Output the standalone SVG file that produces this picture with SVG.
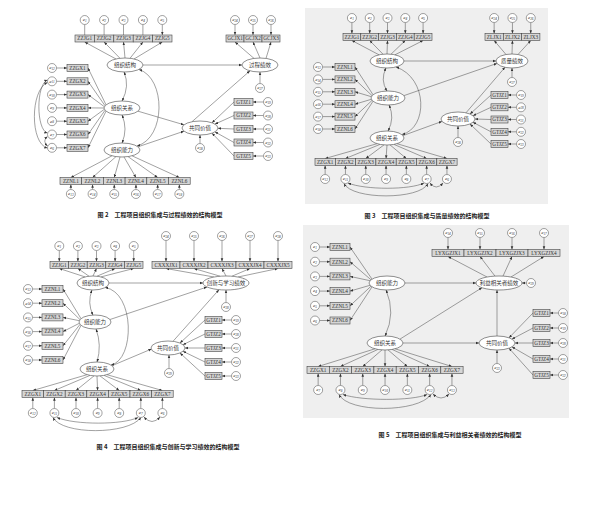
<svg xmlns="http://www.w3.org/2000/svg" width="599" height="516" viewBox="0 0 599 516">
<style>
.bg{fill:#efefef}
.lv{fill:#fff;stroke:#444;stroke-width:.6}
.ob{fill:#d6d6d6;stroke:#444;stroke-width:.6}
.er{fill:#fff;stroke:#444;stroke-width:.5}
.zh{font-family:"Noto Sans CJK SC","Noto Sans",sans-serif;font-size:5.5px;fill:#333;text-anchor:middle}
.bt{font-family:"Liberation Serif",serif;font-size:5.2px;fill:#333;text-anchor:middle}
.et{font-family:"Liberation Serif",serif;font-size:5px;font-style:italic;fill:#333;text-anchor:middle}
.s{font-size:3.4px}
.cap{font-family:"Noto Sans CJK SC",sans-serif;font-size:6px;fill:#222;text-anchor:middle;font-weight:bold}
.a{fill:none;stroke:#444;stroke-width:.5;marker-end:url(#ah)}
.d{fill:none;stroke:#444;stroke-width:.5;marker-end:url(#ah);marker-start:url(#ah)}
</style>
<defs>
<marker id="ah" viewBox="0 0 10 10" refX="10" refY="5" markerWidth="3.2" markerHeight="3.2" markerUnits="userSpaceOnUse" orient="auto-start-reverse"><path d="M0,1 L10,5 L0,9 z" fill="#333"/></marker>
</defs>
<rect width="599" height="516" fill="#fff"/>
<rect class="bg" x="305" y="8" width="243" height="196"/>
<rect class="bg" x="303" y="225" width="266" height="193"/>

<g id="connectors">
<g id="c-fig2">
<path class="a" d="M84.7,24.5V35M104.1,24.5V35M123.5,24.5V35M142.9,24.5V35M162.3,24.5V35"/>
<path class="a" d="M116,59L84.7,42"/><path class="a" d="M120,58.3L104.1,42"/><path class="a" d="M125,58L123.5,42"/><path class="a" d="M130,58.3L142.9,42"/><path class="a" d="M134,59L162.3,42"/>
<path class="a" d="M235,24.5V35"/><path class="a" d="M253,24.5V35"/><path class="a" d="M271,24.5V35"/>
<path class="a" d="M254,58.4L235,42"/><path class="a" d="M260,58L253,42"/><path class="a" d="M266,58.4L271,42"/>
<path class="a" d="M260,83.5V72"/>
<path class="a" d="M56.5,68H67"/><path class="a" d="M56.5,81.3H67"/><path class="a" d="M56.5,94.6H67"/><path class="a" d="M56.5,107.9H67"/><path class="a" d="M56.5,121.2H67"/><path class="a" d="M56.5,134.5H67"/><path class="a" d="M56.5,147.8H67"/>
<path class="a" d="M106,104.8L88,68"/><path class="a" d="M105,105.7L88,81.3"/><path class="a" d="M104.3,106.7L88,94.6"/><path class="a" d="M104,108L88,107.9"/><path class="a" d="M104.3,109.3L88,121.2"/><path class="a" d="M105,110.3L88,134.5"/><path class="a" d="M106,111.2L88,147.8"/>
<path class="d" d="M47.5,80C36,84 36,130 47.5,133"/>
<path class="d" d="M47.5,82.5C30,90 30,144 47.5,148"/>
<path class="d" d="M47.5,136.5Q42,141 47.5,146"/>
<path class="a" d="M70.85,189.5V184.5"/><path class="a" d="M92.55,189.5V184.5"/><path class="a" d="M114.25,189.5V184.5"/><path class="a" d="M135.95,189.5V184.5"/><path class="a" d="M157.65,189.5V184.5"/><path class="a" d="M179.35,189.5V184.5"/>
<path class="a" d="M112,155.8L70.85,177.5"/><path class="a" d="M116,156.6L92.55,177.5"/><path class="a" d="M120,157L114.25,177.5"/><path class="a" d="M124,157L135.95,177.5"/><path class="a" d="M128,156.6L157.65,177.5"/><path class="a" d="M132,155.8L179.35,177.5"/>
<path class="a" d="M263.5,102H253"/><path class="a" d="M263.5,115.5H253"/><path class="a" d="M263.5,129H253"/><path class="a" d="M263.5,142.5H253"/><path class="a" d="M263.5,156H253"/>
<path class="a" d="M234,102L212,122.8"/><path class="a" d="M234,115.5L215,124.1"/><path class="a" d="M234,129L218,128.3"/><path class="a" d="M234,142.5L215,131.9"/><path class="a" d="M234,156L212,133.2"/>
<path class="a" d="M200,143.5V135"/>
<path class="a" d="M143,65H242"/>
<path class="a" d="M138,111.2L184,124.8"/>
<path class="a" d="M138,146.8L184,131.2"/>
<path class="a" d="M192,121.7L250,70.8"/>
<path class="d" d="M124,72Q130,86 122,101"/>
<path class="d" d="M122,115Q128,129 122,143"/>
<path class="d" d="M139,69.5C166,78 166,138 137,146"/>
</g>
<g id="c-fig3">
<path class="a" d="M351.9,22.5V33.5"/><path class="a" d="M369.7,22.5V33.5"/><path class="a" d="M387.5,22.5V33.5"/><path class="a" d="M405.3,22.5V33.5"/><path class="a" d="M423.1,22.5V33.5"/>
<path class="a" d="M379,54.8L351.9,40.5"/><path class="a" d="M383,54.2L369.7,40.5"/><path class="a" d="M387,54L387.5,40.5"/><path class="a" d="M391,54.2L405.3,40.5"/><path class="a" d="M395,54.8L423.1,40.5"/>
<path class="a" d="M494.15,22.5V33.5"/><path class="a" d="M512.45,22.5V33.5"/><path class="a" d="M530.75,22.5V33.5"/>
<path class="a" d="M506,54.5L494.15,40.5"/><path class="a" d="M512,54L512.45,40.5"/><path class="a" d="M518,54.5L530.75,40.5"/>
<path class="a" d="M512,77.5V68"/>
<path class="a" d="M322.5,67H335"/><path class="a" d="M322.5,79.4H335"/><path class="a" d="M322.5,91.8H335"/><path class="a" d="M322.5,104.2H335"/><path class="a" d="M322.5,116.6H335"/><path class="a" d="M322.5,129H335"/>
<path class="a" d="M373,94.7L355,67"/><path class="a" d="M372,95.6L355,79.4"/><path class="a" d="M371.3,96.7L355,91.8"/><path class="a" d="M371.3,99.3L355,104.2"/><path class="a" d="M372,100.4L355,116.6"/><path class="a" d="M373,101.3L355,129"/>
<path class="a" d="M325.15,174.5V165.5"/><path class="a" d="M345.45,174.5V165.5"/><path class="a" d="M365.75,174.5V165.5"/><path class="a" d="M386.05,174.5V165.5"/><path class="a" d="M406.35,174.5V165.5"/><path class="a" d="M426.65,174.5V165.5"/><path class="a" d="M446.95,174.5V165.5"/>
<path class="a" d="M377,143.7L325.15,158.5"/><path class="a" d="M380,144.4L345.45,158.5"/><path class="a" d="M384,144.9L365.75,158.5"/><path class="a" d="M387,145L386.05,158.5"/><path class="a" d="M390,144.9L406.35,158.5"/><path class="a" d="M394,144.4L426.65,158.5"/><path class="a" d="M397,143.7L446.95,158.5"/>
<path class="d" d="M348,183C365,190 410,190 424,183"/>
<path class="d" d="M344,183.5C352,200 420,200 428,183.5"/>
<path class="d" d="M430,183Q436,191 443,183"/>
<path class="a" d="M516.5,95H508"/><path class="a" d="M516.5,107.3H508"/><path class="a" d="M516.5,119.5H508"/><path class="a" d="M516.5,131.8H508"/><path class="a" d="M516.5,144H508"/>
<path class="a" d="M491,95L470,114"/><path class="a" d="M491,107.3L473,115.7"/><path class="a" d="M491,119.5L475,119"/><path class="a" d="M491,131.8L473,122.3"/><path class="a" d="M491,144L470,124"/>
<path class="a" d="M458,137.5V126"/>
<path class="a" d="M404,61H496"/>
<path class="a" d="M404,95.6L497,63.4"/>
<path class="a" d="M403,135.6L442,121.4"/>
<path class="a" d="M466,112.8L505,67.3"/>
<path class="d" d="M386,68Q380,80 387,91"/>
<path class="d" d="M389,105Q395,118 388,131"/>
<path class="d" d="M396,67C428,78 428,128 402,134.5"/>
</g>
<g id="c-fig4">
<path class="a" d="M59.3,250.5V261.5"/><path class="a" d="M77.9,250.5V261.5"/><path class="a" d="M96.5,250.5V261.5"/><path class="a" d="M115.1,250.5V261.5"/><path class="a" d="M133.7,250.5V261.5"/>
<path class="a" d="M85,276.9L59.3,268.5"/><path class="a" d="M89,276.2L77.9,268.5"/><path class="a" d="M93,276L96.5,268.5"/><path class="a" d="M97,276.2L115.1,268.5"/><path class="a" d="M101,276.9L133.7,268.5"/>
<path class="a" d="M166,240.5V261.5"/><path class="a" d="M194,240.5V261.5"/><path class="a" d="M222,240.5V261.5"/><path class="a" d="M250,240.5V261.5"/><path class="a" d="M278,240.5V261.5"/>
<path class="a" d="M214,277L166,268.5"/><path class="a" d="M220,276.2L194,268.5"/><path class="a" d="M226,276L222,268.5"/><path class="a" d="M232,276.2L250,268.5"/><path class="a" d="M238,277L278,268.5"/>
<path class="a" d="M226,302.5V290"/>
<path class="a" d="M32.5,289H42"/><path class="a" d="M32.5,303.2H42"/><path class="a" d="M32.5,317.4H42"/><path class="a" d="M32.5,331.6H42"/><path class="a" d="M32.5,345.8H42"/><path class="a" d="M32.5,360H42"/>
<path class="a" d="M81,318.6L63,289"/><path class="a" d="M80,319.6L63,303.2"/><path class="a" d="M79.3,320.7L63,317.4"/><path class="a" d="M79.3,323.3L63,331.6"/><path class="a" d="M80,324.4L63,345.8"/><path class="a" d="M81,325.4L63,360"/>
<path class="a" d="M32.8,408.5V397.5"/><path class="a" d="M54.4,408.5V397.5"/><path class="a" d="M76,408.5V397.5"/><path class="a" d="M97.6,408.5V397.5"/><path class="a" d="M119.2,408.5V397.5"/><path class="a" d="M140.8,408.5V397.5"/><path class="a" d="M162.4,408.5V397.5"/>
<path class="a" d="M87,374.7L32.8,390.5"/><path class="a" d="M90,375.4L54.4,390.5"/><path class="a" d="M94,375.9L76,390.5"/><path class="a" d="M97,376L97.6,390.5"/><path class="a" d="M100,375.9L119.2,390.5"/><path class="a" d="M104,375.4L140.8,390.5"/><path class="a" d="M107,374.7L162.4,390.5"/>
<path class="d" d="M57,417.5C75,425 122,425 138,417.5"/>
<path class="d" d="M53,417.5C62,435 128,435 141,417.5"/>
<path class="d" d="M144,417Q152,426 160,417"/>
<path class="a" d="M231.5,320H222"/><path class="a" d="M231.5,334H222"/><path class="a" d="M231.5,348H222"/><path class="a" d="M231.5,362H222"/><path class="a" d="M231.5,376H222"/>
<path class="a" d="M205,320L180,343"/><path class="a" d="M205,334L183,344.7"/><path class="a" d="M205,348L185,348"/><path class="a" d="M205,362L183,351.3"/><path class="a" d="M205,376L180,353"/>
<path class="a" d="M169,368.5V355"/>
<path class="a" d="M109,283H203"/>
<path class="a" d="M110,319.5L207,287"/>
<path class="a" d="M112,365.7L151.5,349"/>
<path class="a" d="M173,341.3L219,289.7"/>
<path class="d" d="M92,290Q87,303 93,315"/>
<path class="d" d="M96,329Q102,345 97,362"/>
<path class="d" d="M105,287.5C135,292 135,360 111,365"/>
</g>
<g id="c-fig5">
<path class="a" d="M319.5,247H330"/><path class="a" d="M319.5,261.7H330"/><path class="a" d="M319.5,276.4H330"/><path class="a" d="M319.5,291.1H330"/><path class="a" d="M319.5,305.8H330"/><path class="a" d="M319.5,320.5H330"/>
<path class="a" d="M372,279.1L350,247"/><path class="a" d="M371,279.8L350,261.7"/><path class="a" d="M370,280.7L350,276.4"/><path class="a" d="M370,285.3L350,291.1"/><path class="a" d="M371,286.2L350,305.8"/><path class="a" d="M372,286.9L350,320.5"/>
<path class="a" d="M448,237.5V249.5"/><path class="a" d="M480,237.5V249.5"/><path class="a" d="M512,237.5V249.5"/><path class="a" d="M544,237.5V249.5"/>
<path class="a" d="M487,277L448,256.5"/><path class="a" d="M495,276.1L480,256.5"/><path class="a" d="M503,276.1L512,256.5"/><path class="a" d="M511,277L544,256.5"/>
<path class="a" d="M526.5,283H522"/>
<path class="a" d="M318.15,385.5V373.5"/><path class="a" d="M340.45,385.5V373.5"/><path class="a" d="M362.75,385.5V373.5"/><path class="a" d="M385.05,385.5V373.5"/><path class="a" d="M407.35,385.5V373.5"/><path class="a" d="M429.65,385.5V373.5"/><path class="a" d="M451.95,385.5V373.5"/>
<path class="a" d="M375,348.8L318.15,366.5"/><path class="a" d="M378,349.4L340.45,366.5"/><path class="a" d="M382,349.9L362.75,366.5"/><path class="a" d="M385,350L385.05,366.5"/><path class="a" d="M388,349.9L407.35,366.5"/><path class="a" d="M392,349.4L429.65,366.5"/><path class="a" d="M395,348.8L451.95,366.5"/>
<path class="d" d="M343,394.5C362,401 412,401 427,394.5"/>
<path class="d" d="M339,394.5C348,413 418,413 431,394.5"/>
<path class="d" d="M433,394Q441,402 449,394"/>
<path class="a" d="M558.5,313H550"/><path class="a" d="M558.5,328H550"/><path class="a" d="M558.5,343H550"/><path class="a" d="M558.5,359H550"/><path class="a" d="M558.5,375H550"/>
<path class="a" d="M533,313L509,337.8"/><path class="a" d="M533,328L512,339.1"/><path class="a" d="M533,343L515,343"/><path class="a" d="M533,359L512,346.9"/><path class="a" d="M533,375L509,348.2"/>
<path class="a" d="M497,363.5V350"/>
<path class="a" d="M405,283H476"/>
<path class="a" d="M400,339.1L482,287.7"/>
<path class="a" d="M403,343H479"/>
<path class="a" d="M497,336V290"/>
<path class="d" d="M386,290Q396,313 385,336"/>
</g>
</g>

<!-- ===== Figure 2 nodes ===== -->
<g id="fig2">
<g id="f2-jg"><ellipse class="lv" cx="125" cy="65" rx="18" ry="7"/><text class="zh" x="125" y="67">组织结构</text></g>
<g id="f2-gcjx"><ellipse class="lv" cx="260" cy="65" rx="18" ry="7"/><text class="zh" x="260" y="67">过程绩效</text></g>
<g id="f2-gx"><ellipse class="lv" cx="122" cy="108" rx="18" ry="7"/><text class="zh" x="122" y="110">组织关系</text></g>
<g id="f2-nl"><ellipse class="lv" cx="122" cy="150" rx="18" ry="7"/><text class="zh" x="122" y="152">组织能力</text></g>
<g id="f2-gtjz"><ellipse class="lv" cx="200" cy="128" rx="18" ry="7"/><text class="zh" x="200" y="130">共同价值</text></g>
<g id="f2-ZZJG1"><rect class="ob" x="75" y="35" width="19.4" height="7"/><text class="bt" x="84.7" y="40.3">ZZJG1</text></g>
<g id="f2-ZZJG2"><rect class="ob" x="94.4" y="35" width="19.4" height="7"/><text class="bt" x="104.1" y="40.3">ZZJG2</text></g>
<g id="f2-ZZJG3"><rect class="ob" x="113.8" y="35" width="19.4" height="7"/><text class="bt" x="123.5" y="40.3">ZZJG3</text></g>
<g id="f2-ZZJG4"><rect class="ob" x="133.2" y="35" width="19.4" height="7"/><text class="bt" x="142.9" y="40.3">ZZJG4</text></g>
<g id="f2-ZZJG5"><rect class="ob" x="152.6" y="35" width="19.4" height="7"/><text class="bt" x="162.3" y="40.3">ZZJG5</text></g>
<g id="f2-e1"><circle class="er" cx="84.7" cy="20" r="4.5"/><text class="et" x="84.7" y="21.3">e<tspan class="s" dy=".8">1</tspan></text></g>
<g id="f2-e2"><circle class="er" cx="104.1" cy="20" r="4.5"/><text class="et" x="104.1" y="21.3">e<tspan class="s" dy=".8">2</tspan></text></g>
<g id="f2-e3"><circle class="er" cx="123.5" cy="20" r="4.5"/><text class="et" x="123.5" y="21.3">e<tspan class="s" dy=".8">3</tspan></text></g>
<g id="f2-e4"><circle class="er" cx="142.9" cy="20" r="4.5"/><text class="et" x="142.9" y="21.3">e<tspan class="s" dy=".8">4</tspan></text></g>
<g id="f2-e5"><circle class="er" cx="162.3" cy="20" r="4.5"/><text class="et" x="162.3" y="21.3">e<tspan class="s" dy=".8">5</tspan></text></g>
<g id="f2-GCJX1"><rect class="ob" x="226" y="35" width="18" height="7"/><text class="bt" x="235" y="40.3">GCJX1</text></g>
<g id="f2-GCJX2"><rect class="ob" x="244" y="35" width="18" height="7"/><text class="bt" x="253" y="40.3">GCJX2</text></g>
<g id="f2-GCJX3"><rect class="ob" x="262" y="35" width="18" height="7"/><text class="bt" x="271" y="40.3">GCJX3</text></g>
<g id="f2-e24"><circle class="er" cx="235" cy="20" r="4.5"/><text class="et" x="235" y="21.3">e<tspan class="s" dy=".8">24</tspan></text></g>
<g id="f2-e25"><circle class="er" cx="253" cy="20" r="4.5"/><text class="et" x="253" y="21.3">e<tspan class="s" dy=".8">25</tspan></text></g>
<g id="f2-e26"><circle class="er" cx="271" cy="20" r="4.5"/><text class="et" x="271" y="21.3">e<tspan class="s" dy=".8">26</tspan></text></g>
<g id="f2-e27"><circle class="er" cx="260" cy="88" r="4.5"/><text class="et" x="260" y="89.3">e<tspan class="s" dy=".8">27</tspan></text></g>
<g id="f2-ZZGX1"><rect class="ob" x="67" y="64.5" width="21" height="7"/><text class="bt" x="77.5" y="69.8">ZZGX1</text></g>
<g id="f2-ZZGX2"><rect class="ob" x="67" y="77.8" width="21" height="7"/><text class="bt" x="77.5" y="83.1">ZZGX2</text></g>
<g id="f2-ZZGX3"><rect class="ob" x="67" y="91.1" width="21" height="7"/><text class="bt" x="77.5" y="96.4">ZZGX3</text></g>
<g id="f2-ZZGX4"><rect class="ob" x="67" y="104.4" width="21" height="7"/><text class="bt" x="77.5" y="109.7">ZZGX4</text></g>
<g id="f2-ZZGX5"><rect class="ob" x="67" y="117.7" width="21" height="7"/><text class="bt" x="77.5" y="123">ZZGX5</text></g>
<g id="f2-ZZGX6"><rect class="ob" x="67" y="131" width="21" height="7"/><text class="bt" x="77.5" y="136.3">ZZGX6</text></g>
<g id="f2-ZZGX7"><rect class="ob" x="67" y="144.3" width="21" height="7"/><text class="bt" x="77.5" y="149.6">ZZGX7</text></g>
<g id="f2-e12"><circle class="er" cx="52" cy="68" r="4.5"/><text class="et" x="52" y="69.3">e<tspan class="s" dy=".8">12</tspan></text></g>
<g id="f2-e11"><circle class="er" cx="52" cy="81.3" r="4.5"/><text class="et" x="52" y="82.6">e<tspan class="s" dy=".8">11</tspan></text></g>
<g id="f2-e10"><circle class="er" cx="52" cy="94.6" r="4.5"/><text class="et" x="52" y="95.9">e<tspan class="s" dy=".8">10</tspan></text></g>
<g id="f2-e9"><circle class="er" cx="52" cy="107.9" r="4.5"/><text class="et" x="52" y="109.2">e<tspan class="s" dy=".8">9</tspan></text></g>
<g id="f2-e8"><circle class="er" cx="52" cy="121.2" r="4.5"/><text class="et" x="52" y="122.5">e<tspan class="s" dy=".8">8</tspan></text></g>
<g id="f2-e7"><circle class="er" cx="52" cy="134.5" r="4.5"/><text class="et" x="52" y="135.8">e<tspan class="s" dy=".8">7</tspan></text></g>
<g id="f2-e6"><circle class="er" cx="52" cy="147.8" r="4.5"/><text class="et" x="52" y="149.1">e<tspan class="s" dy=".8">6</tspan></text></g>
<g id="f2-ZZNL1"><rect class="ob" x="60" y="177.5" width="21.7" height="7"/><text class="bt" x="70.85" y="182.8">ZZNL1</text></g>
<g id="f2-ZZNL2"><rect class="ob" x="81.7" y="177.5" width="21.7" height="7"/><text class="bt" x="92.55" y="182.8">ZZNL2</text></g>
<g id="f2-ZZNL3"><rect class="ob" x="103.4" y="177.5" width="21.7" height="7"/><text class="bt" x="114.25" y="182.8">ZZNL3</text></g>
<g id="f2-ZZNL4"><rect class="ob" x="125.1" y="177.5" width="21.7" height="7"/><text class="bt" x="135.95" y="182.8">ZZNL4</text></g>
<g id="f2-ZZNL5"><rect class="ob" x="146.8" y="177.5" width="21.7" height="7"/><text class="bt" x="157.65" y="182.8">ZZNL5</text></g>
<g id="f2-ZZNL6"><rect class="ob" x="168.5" y="177.5" width="21.7" height="7"/><text class="bt" x="179.35" y="182.8">ZZNL6</text></g>
<g id="f2-e13"><circle class="er" cx="70.85" cy="194" r="4.5"/><text class="et" x="70.85" y="195.3">e<tspan class="s" dy=".8">13</tspan></text></g>
<g id="f2-e14"><circle class="er" cx="92.55" cy="194" r="4.5"/><text class="et" x="92.55" y="195.3">e<tspan class="s" dy=".8">14</tspan></text></g>
<g id="f2-e15"><circle class="er" cx="114.25" cy="194" r="4.5"/><text class="et" x="114.25" y="195.3">e<tspan class="s" dy=".8">15</tspan></text></g>
<g id="f2-e16"><circle class="er" cx="135.95" cy="194" r="4.5"/><text class="et" x="135.95" y="195.3">e<tspan class="s" dy=".8">16</tspan></text></g>
<g id="f2-e17"><circle class="er" cx="157.65" cy="194" r="4.5"/><text class="et" x="157.65" y="195.3">e<tspan class="s" dy=".8">17</tspan></text></g>
<g id="f2-e18"><circle class="er" cx="179.35" cy="194" r="4.5"/><text class="et" x="179.35" y="195.3">e<tspan class="s" dy=".8">18</tspan></text></g>
<g id="f2-GTJZ1"><rect class="ob" x="234" y="98.5" width="19" height="7"/><text class="bt" x="243.5" y="103.8">GTJZ1</text></g>
<g id="f2-GTJZ2"><rect class="ob" x="234" y="112" width="19" height="7"/><text class="bt" x="243.5" y="117.3">GTJZ2</text></g>
<g id="f2-GTJZ3"><rect class="ob" x="234" y="125.5" width="19" height="7"/><text class="bt" x="243.5" y="130.8">GTJZ3</text></g>
<g id="f2-GTJZ4"><rect class="ob" x="234" y="139" width="19" height="7"/><text class="bt" x="243.5" y="144.3">GTJZ4</text></g>
<g id="f2-GTJZ5"><rect class="ob" x="234" y="152.5" width="19" height="7"/><text class="bt" x="243.5" y="157.8">GTJZ5</text></g>
<g id="f2-e19"><circle class="er" cx="268" cy="102" r="4.5"/><text class="et" x="268" y="103.3">e<tspan class="s" dy=".8">19</tspan></text></g>
<g id="f2-e20"><circle class="er" cx="268" cy="115.5" r="4.5"/><text class="et" x="268" y="116.8">e<tspan class="s" dy=".8">20</tspan></text></g>
<g id="f2-e21"><circle class="er" cx="268" cy="129" r="4.5"/><text class="et" x="268" y="130.3">e<tspan class="s" dy=".8">21</tspan></text></g>
<g id="f2-e22"><circle class="er" cx="268" cy="142.5" r="4.5"/><text class="et" x="268" y="143.8">e<tspan class="s" dy=".8">22</tspan></text></g>
<g id="f2-e23"><circle class="er" cx="268" cy="156" r="4.5"/><text class="et" x="268" y="157.3">e<tspan class="s" dy=".8">23</tspan></text></g>
<g id="f2-e28"><circle class="er" cx="200" cy="148" r="4.5"/><text class="et" x="200" y="149.3">e<tspan class="s" dy=".8">28</tspan></text></g>
<text class="cap" x="160" y="217">图 2　工程项目组织集成与过程绩效的结构模型</text>
</g>

<!-- ===== Figure 3 nodes ===== -->
<g id="fig3">
<g id="f3-jg"><ellipse class="lv" cx="387" cy="61" rx="17" ry="7"/><text class="zh" x="387" y="63">组织结构</text></g>
<g id="f3-zl"><ellipse class="lv" cx="512" cy="61" rx="16" ry="7"/><text class="zh" x="512" y="63">质量绩效</text></g>
<g id="f3-nl"><ellipse class="lv" cx="388" cy="98" rx="17" ry="7"/><text class="zh" x="388" y="100">组织能力</text></g>
<g id="f3-gx"><ellipse class="lv" cx="387" cy="138" rx="17" ry="7"/><text class="zh" x="387" y="140">组织关系</text></g>
<g id="f3-gtjz"><ellipse class="lv" cx="458" cy="119" rx="17" ry="7"/><text class="zh" x="458" y="121">共同价值</text></g>
<g id="f3-ZZJG1"><rect class="ob" x="343" y="33.5" width="17.8" height="7"/><text class="bt" x="351.9" y="38.8">ZZJG1</text></g>
<g id="f3-ZZJG2"><rect class="ob" x="360.8" y="33.5" width="17.8" height="7"/><text class="bt" x="369.7" y="38.8">ZZJG2</text></g>
<g id="f3-ZZJG3"><rect class="ob" x="378.6" y="33.5" width="17.8" height="7"/><text class="bt" x="387.5" y="38.8">ZZJG3</text></g>
<g id="f3-ZZJG4"><rect class="ob" x="396.4" y="33.5" width="17.8" height="7"/><text class="bt" x="405.3" y="38.8">ZZJG4</text></g>
<g id="f3-ZZJG5"><rect class="ob" x="414.2" y="33.5" width="17.8" height="7"/><text class="bt" x="423.1" y="38.8">ZZJG5</text></g>
<g id="f3-e1"><circle class="er" cx="351.9" cy="18" r="4.5"/><text class="et" x="351.9" y="19.3">e<tspan class="s" dy=".8">1</tspan></text></g>
<g id="f3-e2"><circle class="er" cx="369.7" cy="18" r="4.5"/><text class="et" x="369.7" y="19.3">e<tspan class="s" dy=".8">2</tspan></text></g>
<g id="f3-e3"><circle class="er" cx="387.5" cy="18" r="4.5"/><text class="et" x="387.5" y="19.3">e<tspan class="s" dy=".8">3</tspan></text></g>
<g id="f3-e4"><circle class="er" cx="405.3" cy="18" r="4.5"/><text class="et" x="405.3" y="19.3">e<tspan class="s" dy=".8">4</tspan></text></g>
<g id="f3-e5"><circle class="er" cx="423.1" cy="18" r="4.5"/><text class="et" x="423.1" y="19.3">e<tspan class="s" dy=".8">5</tspan></text></g>
<g id="f3-ZLJX1"><rect class="ob" x="485" y="33.5" width="18.3" height="7"/><text class="bt" x="494.15" y="38.8">ZLJX1</text></g>
<g id="f3-ZLJX2"><rect class="ob" x="503.3" y="33.5" width="18.3" height="7"/><text class="bt" x="512.45" y="38.8">ZLJX2</text></g>
<g id="f3-ZLJX3"><rect class="ob" x="521.6" y="33.5" width="18.3" height="7"/><text class="bt" x="530.75" y="38.8">ZLJX3</text></g>
<g id="f3-e24"><circle class="er" cx="494.15" cy="18" r="4.5"/><text class="et" x="494.15" y="19.3">e<tspan class="s" dy=".8">24</tspan></text></g>
<g id="f3-e25"><circle class="er" cx="512.45" cy="18" r="4.5"/><text class="et" x="512.45" y="19.3">e<tspan class="s" dy=".8">25</tspan></text></g>
<g id="f3-e26"><circle class="er" cx="530.75" cy="18" r="4.5"/><text class="et" x="530.75" y="19.3">e<tspan class="s" dy=".8">26</tspan></text></g>
<g id="f3-e27"><circle class="er" cx="512" cy="82" r="4.5"/><text class="et" x="512" y="83.3">e<tspan class="s" dy=".8">27</tspan></text></g>
<g id="f3-ZZNL1"><rect class="ob" x="335" y="63.5" width="20" height="7"/><text class="bt" x="345" y="68.8">ZZNL1</text></g>
<g id="f3-ZZNL2"><rect class="ob" x="335" y="75.9" width="20" height="7"/><text class="bt" x="345" y="81.2">ZZNL2</text></g>
<g id="f3-ZZNL3"><rect class="ob" x="335" y="88.3" width="20" height="7"/><text class="bt" x="345" y="93.6">ZZNL3</text></g>
<g id="f3-ZZNL4"><rect class="ob" x="335" y="100.7" width="20" height="7"/><text class="bt" x="345" y="106">ZZNL4</text></g>
<g id="f3-ZZNL5"><rect class="ob" x="335" y="113.1" width="20" height="7"/><text class="bt" x="345" y="118.4">ZZNL5</text></g>
<g id="f3-ZZNL6"><rect class="ob" x="335" y="125.5" width="20" height="7"/><text class="bt" x="345" y="130.8">ZZNL6</text></g>
<g id="f3-e13"><circle class="er" cx="318" cy="67" r="4.5"/><text class="et" x="318" y="68.3">e<tspan class="s" dy=".8">13</tspan></text></g>
<g id="f3-e14"><circle class="er" cx="318" cy="79.4" r="4.5"/><text class="et" x="318" y="80.7">e<tspan class="s" dy=".8">14</tspan></text></g>
<g id="f3-e15"><circle class="er" cx="318" cy="91.8" r="4.5"/><text class="et" x="318" y="93.1">e<tspan class="s" dy=".8">15</tspan></text></g>
<g id="f3-e16"><circle class="er" cx="318" cy="104.2" r="4.5"/><text class="et" x="318" y="105.5">e<tspan class="s" dy=".8">16</tspan></text></g>
<g id="f3-e17"><circle class="er" cx="318" cy="116.6" r="4.5"/><text class="et" x="318" y="117.9">e<tspan class="s" dy=".8">17</tspan></text></g>
<g id="f3-e18"><circle class="er" cx="318" cy="129" r="4.5"/><text class="et" x="318" y="130.3">e<tspan class="s" dy=".8">18</tspan></text></g>
<g id="f3-ZZGX1"><rect class="ob" x="315" y="158.5" width="20.3" height="7"/><text class="bt" x="325.15" y="163.8">ZZGX1</text></g>
<g id="f3-ZZGX2"><rect class="ob" x="335.3" y="158.5" width="20.3" height="7"/><text class="bt" x="345.45" y="163.8">ZZGX2</text></g>
<g id="f3-ZZGX3"><rect class="ob" x="355.6" y="158.5" width="20.3" height="7"/><text class="bt" x="365.75" y="163.8">ZZGX3</text></g>
<g id="f3-ZZGX4"><rect class="ob" x="375.9" y="158.5" width="20.3" height="7"/><text class="bt" x="386.05" y="163.8">ZZGX4</text></g>
<g id="f3-ZZGX5"><rect class="ob" x="396.2" y="158.5" width="20.3" height="7"/><text class="bt" x="406.35" y="163.8">ZZGX5</text></g>
<g id="f3-ZZGX6"><rect class="ob" x="416.5" y="158.5" width="20.3" height="7"/><text class="bt" x="426.65" y="163.8">ZZGX6</text></g>
<g id="f3-ZZGX7"><rect class="ob" x="436.8" y="158.5" width="20.3" height="7"/><text class="bt" x="446.95" y="163.8">ZZGX7</text></g>
<g id="f3-e12"><circle class="er" cx="325.15" cy="179" r="4.5"/><text class="et" x="325.15" y="180.3">e<tspan class="s" dy=".8">12</tspan></text></g>
<g id="f3-e11"><circle class="er" cx="345.45" cy="179" r="4.5"/><text class="et" x="345.45" y="180.3">e<tspan class="s" dy=".8">11</tspan></text></g>
<g id="f3-e10"><circle class="er" cx="365.75" cy="179" r="4.5"/><text class="et" x="365.75" y="180.3">e<tspan class="s" dy=".8">10</tspan></text></g>
<g id="f3-e9"><circle class="er" cx="386.05" cy="179" r="4.5"/><text class="et" x="386.05" y="180.3">e<tspan class="s" dy=".8">9</tspan></text></g>
<g id="f3-e8"><circle class="er" cx="406.35" cy="179" r="4.5"/><text class="et" x="406.35" y="180.3">e<tspan class="s" dy=".8">8</tspan></text></g>
<g id="f3-e7"><circle class="er" cx="426.65" cy="179" r="4.5"/><text class="et" x="426.65" y="180.3">e<tspan class="s" dy=".8">7</tspan></text></g>
<g id="f3-e6"><circle class="er" cx="446.95" cy="179" r="4.5"/><text class="et" x="446.95" y="180.3">e<tspan class="s" dy=".8">6</tspan></text></g>
<g id="f3-GTJZ1"><rect class="ob" x="491" y="91.5" width="17" height="7"/><text class="bt" x="499.5" y="96.8">GTJZ1</text></g>
<g id="f3-GTJZ2"><rect class="ob" x="491" y="103.8" width="17" height="7"/><text class="bt" x="499.5" y="109.1">GTJZ2</text></g>
<g id="f3-GTJZ3"><rect class="ob" x="491" y="116" width="17" height="7"/><text class="bt" x="499.5" y="121.3">GTJZ3</text></g>
<g id="f3-GTJZ4"><rect class="ob" x="491" y="128.3" width="17" height="7"/><text class="bt" x="499.5" y="133.6">GTJZ4</text></g>
<g id="f3-GTJZ5"><rect class="ob" x="491" y="140.5" width="17" height="7"/><text class="bt" x="499.5" y="145.8">GTJZ5</text></g>
<g id="f3-e19"><circle class="er" cx="521" cy="95" r="4.5"/><text class="et" x="521" y="96.3">e<tspan class="s" dy=".8">19</tspan></text></g>
<g id="f3-e20"><circle class="er" cx="521" cy="107.3" r="4.5"/><text class="et" x="521" y="108.6">e<tspan class="s" dy=".8">20</tspan></text></g>
<g id="f3-e21"><circle class="er" cx="521" cy="119.5" r="4.5"/><text class="et" x="521" y="120.8">e<tspan class="s" dy=".8">21</tspan></text></g>
<g id="f3-e22"><circle class="er" cx="521" cy="131.8" r="4.5"/><text class="et" x="521" y="133.1">e<tspan class="s" dy=".8">22</tspan></text></g>
<g id="f3-e23"><circle class="er" cx="521" cy="144" r="4.5"/><text class="et" x="521" y="145.3">e<tspan class="s" dy=".8">23</tspan></text></g>
<g id="f3-e28"><circle class="er" cx="458" cy="142" r="4.5"/><text class="et" x="458" y="143.3">e<tspan class="s" dy=".8">28</tspan></text></g>
<text class="cap" x="427" y="218">图 3　工程项目组织集成与质量绩效的结构模型</text>
</g>

<!-- ===== Figure 4 nodes ===== -->
<g id="fig4">
<g id="f4-jg"><ellipse class="lv" cx="93" cy="283" rx="16" ry="7"/><text class="zh" x="93" y="285">组织结构</text></g>
<g id="f4-cx"><ellipse class="lv" cx="226" cy="283" rx="23" ry="7"/><text class="zh" x="226" y="285">创新与学习绩效</text></g>
<g id="f4-nl"><ellipse class="lv" cx="95" cy="322" rx="16" ry="7"/><text class="zh" x="95" y="324">组织能力</text></g>
<g id="f4-gx"><ellipse class="lv" cx="97" cy="369" rx="17" ry="7"/><text class="zh" x="97" y="371">组织关系</text></g>
<g id="f4-gtjz"><ellipse class="lv" cx="168" cy="348" rx="17" ry="7"/><text class="zh" x="168" y="350">共同价值</text></g>
<g id="f4-ZZJG1"><rect class="ob" x="50" y="261.5" width="18.6" height="7"/><text class="bt" x="59.3" y="266.8">ZZJG1</text></g>
<g id="f4-ZZJG2"><rect class="ob" x="68.6" y="261.5" width="18.6" height="7"/><text class="bt" x="77.9" y="266.8">ZZJG2</text></g>
<g id="f4-ZZJG3"><rect class="ob" x="87.2" y="261.5" width="18.6" height="7"/><text class="bt" x="96.5" y="266.8">ZZJG3</text></g>
<g id="f4-ZZJG4"><rect class="ob" x="105.8" y="261.5" width="18.6" height="7"/><text class="bt" x="115.1" y="266.8">ZZJG4</text></g>
<g id="f4-ZZJG5"><rect class="ob" x="124.4" y="261.5" width="18.6" height="7"/><text class="bt" x="133.7" y="266.8">ZZJG5</text></g>
<g id="f4-e1"><circle class="er" cx="59.3" cy="246" r="4.5"/><text class="et" x="59.3" y="247.3">e<tspan class="s" dy=".8">1</tspan></text></g>
<g id="f4-e2"><circle class="er" cx="77.9" cy="246" r="4.5"/><text class="et" x="77.9" y="247.3">e<tspan class="s" dy=".8">2</tspan></text></g>
<g id="f4-e3"><circle class="er" cx="96.5" cy="246" r="4.5"/><text class="et" x="96.5" y="247.3">e<tspan class="s" dy=".8">3</tspan></text></g>
<g id="f4-e4"><circle class="er" cx="115.1" cy="246" r="4.5"/><text class="et" x="115.1" y="247.3">e<tspan class="s" dy=".8">4</tspan></text></g>
<g id="f4-e5"><circle class="er" cx="133.7" cy="246" r="4.5"/><text class="et" x="133.7" y="247.3">e<tspan class="s" dy=".8">5</tspan></text></g>
<g id="f4-CXXXJX1"><rect class="ob" x="152" y="261.5" width="28" height="7"/><text class="bt" x="166" y="266.8">CXXXJX1</text></g>
<g id="f4-CXXXJX2"><rect class="ob" x="180" y="261.5" width="28" height="7"/><text class="bt" x="194" y="266.8">CXXXJX2</text></g>
<g id="f4-CXXXJX3"><rect class="ob" x="208" y="261.5" width="28" height="7"/><text class="bt" x="222" y="266.8">CXXXJX3</text></g>
<g id="f4-CXXXJX4"><rect class="ob" x="236" y="261.5" width="28" height="7"/><text class="bt" x="250" y="266.8">CXXXJX4</text></g>
<g id="f4-CXXXJX5"><rect class="ob" x="264" y="261.5" width="28" height="7"/><text class="bt" x="278" y="266.8">CXXXJX5</text></g>
<g id="f4-e24"><circle class="er" cx="166" cy="236" r="4.5"/><text class="et" x="166" y="237.3">e<tspan class="s" dy=".8">24</tspan></text></g>
<g id="f4-e25"><circle class="er" cx="194" cy="236" r="4.5"/><text class="et" x="194" y="237.3">e<tspan class="s" dy=".8">25</tspan></text></g>
<g id="f4-e26"><circle class="er" cx="222" cy="236" r="4.5"/><text class="et" x="222" y="237.3">e<tspan class="s" dy=".8">26</tspan></text></g>
<g id="f4-e27"><circle class="er" cx="250" cy="236" r="4.5"/><text class="et" x="250" y="237.3">e<tspan class="s" dy=".8">27</tspan></text></g>
<g id="f4-e28"><circle class="er" cx="278" cy="236" r="4.5"/><text class="et" x="278" y="237.3">e<tspan class="s" dy=".8">28</tspan></text></g>
<g id="f4-e30"><circle class="er" cx="226" cy="307" r="4.5"/><text class="et" x="226" y="308.3">e<tspan class="s" dy=".8">30</tspan></text></g>
<g id="f4-ZZNL1"><rect class="ob" x="42" y="285.5" width="21" height="7"/><text class="bt" x="52.5" y="290.8">ZZNL1</text></g>
<g id="f4-ZZNL2"><rect class="ob" x="42" y="299.7" width="21" height="7"/><text class="bt" x="52.5" y="305">ZZNL2</text></g>
<g id="f4-ZZNL3"><rect class="ob" x="42" y="313.9" width="21" height="7"/><text class="bt" x="52.5" y="319.2">ZZNL3</text></g>
<g id="f4-ZZNL4"><rect class="ob" x="42" y="328.1" width="21" height="7"/><text class="bt" x="52.5" y="333.4">ZZNL4</text></g>
<g id="f4-ZZNL5"><rect class="ob" x="42" y="342.3" width="21" height="7"/><text class="bt" x="52.5" y="347.6">ZZNL5</text></g>
<g id="f4-ZZNL6"><rect class="ob" x="42" y="356.5" width="21" height="7"/><text class="bt" x="52.5" y="361.8">ZZNL6</text></g>
<g id="f4-e13"><circle class="er" cx="28" cy="289" r="4.5"/><text class="et" x="28" y="290.3">e<tspan class="s" dy=".8">13</tspan></text></g>
<g id="f4-e14"><circle class="er" cx="28" cy="303.2" r="4.5"/><text class="et" x="28" y="304.5">e<tspan class="s" dy=".8">14</tspan></text></g>
<g id="f4-e15"><circle class="er" cx="28" cy="317.4" r="4.5"/><text class="et" x="28" y="318.7">e<tspan class="s" dy=".8">15</tspan></text></g>
<g id="f4-e16"><circle class="er" cx="28" cy="331.6" r="4.5"/><text class="et" x="28" y="332.9">e<tspan class="s" dy=".8">16</tspan></text></g>
<g id="f4-e17"><circle class="er" cx="28" cy="345.8" r="4.5"/><text class="et" x="28" y="347.1">e<tspan class="s" dy=".8">17</tspan></text></g>
<g id="f4-e18"><circle class="er" cx="28" cy="360" r="4.5"/><text class="et" x="28" y="361.3">e<tspan class="s" dy=".8">18</tspan></text></g>
<g id="f4-ZZGX1"><rect class="ob" x="22" y="390.5" width="21.6" height="7"/><text class="bt" x="32.8" y="395.8">ZZGX1</text></g>
<g id="f4-ZZGX2"><rect class="ob" x="43.6" y="390.5" width="21.6" height="7"/><text class="bt" x="54.4" y="395.8">ZZGX2</text></g>
<g id="f4-ZZGX3"><rect class="ob" x="65.2" y="390.5" width="21.6" height="7"/><text class="bt" x="76" y="395.8">ZZGX3</text></g>
<g id="f4-ZZGX4"><rect class="ob" x="86.8" y="390.5" width="21.6" height="7"/><text class="bt" x="97.6" y="395.8">ZZGX4</text></g>
<g id="f4-ZZGX5"><rect class="ob" x="108.4" y="390.5" width="21.6" height="7"/><text class="bt" x="119.2" y="395.8">ZZGX5</text></g>
<g id="f4-ZZGX6"><rect class="ob" x="130" y="390.5" width="21.6" height="7"/><text class="bt" x="140.8" y="395.8">ZZGX6</text></g>
<g id="f4-ZZGX7"><rect class="ob" x="151.6" y="390.5" width="21.6" height="7"/><text class="bt" x="162.4" y="395.8">ZZGX7</text></g>
<g id="f4-e12"><circle class="er" cx="32.8" cy="413" r="4.5"/><text class="et" x="32.8" y="414.3">e<tspan class="s" dy=".8">12</tspan></text></g>
<g id="f4-e11"><circle class="er" cx="54.4" cy="413" r="4.5"/><text class="et" x="54.4" y="414.3">e<tspan class="s" dy=".8">11</tspan></text></g>
<g id="f4-e10"><circle class="er" cx="76" cy="413" r="4.5"/><text class="et" x="76" y="414.3">e<tspan class="s" dy=".8">10</tspan></text></g>
<g id="f4-e9"><circle class="er" cx="97.6" cy="413" r="4.5"/><text class="et" x="97.6" y="414.3">e<tspan class="s" dy=".8">9</tspan></text></g>
<g id="f4-e8"><circle class="er" cx="119.2" cy="413" r="4.5"/><text class="et" x="119.2" y="414.3">e<tspan class="s" dy=".8">8</tspan></text></g>
<g id="f4-e7"><circle class="er" cx="140.8" cy="413" r="4.5"/><text class="et" x="140.8" y="414.3">e<tspan class="s" dy=".8">7</tspan></text></g>
<g id="f4-e6"><circle class="er" cx="162.4" cy="413" r="4.5"/><text class="et" x="162.4" y="414.3">e<tspan class="s" dy=".8">6</tspan></text></g>
<g id="f4-GTJZ1"><rect class="ob" x="205" y="316.5" width="17" height="7"/><text class="bt" x="213.5" y="321.8">GTJZ1</text></g>
<g id="f4-GTJZ2"><rect class="ob" x="205" y="330.5" width="17" height="7"/><text class="bt" x="213.5" y="335.8">GTJZ2</text></g>
<g id="f4-GTJZ3"><rect class="ob" x="205" y="344.5" width="17" height="7"/><text class="bt" x="213.5" y="349.8">GTJZ3</text></g>
<g id="f4-GTJZ4"><rect class="ob" x="205" y="358.5" width="17" height="7"/><text class="bt" x="213.5" y="363.8">GTJZ4</text></g>
<g id="f4-GTJZ5"><rect class="ob" x="205" y="372.5" width="17" height="7"/><text class="bt" x="213.5" y="377.8">GTJZ5</text></g>
<g id="f4-e19"><circle class="er" cx="236" cy="320" r="4.5"/><text class="et" x="236" y="321.3">e<tspan class="s" dy=".8">19</tspan></text></g>
<g id="f4-e20"><circle class="er" cx="236" cy="334" r="4.5"/><text class="et" x="236" y="335.3">e<tspan class="s" dy=".8">20</tspan></text></g>
<g id="f4-e21"><circle class="er" cx="236" cy="348" r="4.5"/><text class="et" x="236" y="349.3">e<tspan class="s" dy=".8">21</tspan></text></g>
<g id="f4-e22"><circle class="er" cx="236" cy="362" r="4.5"/><text class="et" x="236" y="363.3">e<tspan class="s" dy=".8">22</tspan></text></g>
<g id="f4-e23"><circle class="er" cx="236" cy="376" r="4.5"/><text class="et" x="236" y="377.3">e<tspan class="s" dy=".8">23</tspan></text></g>
<g id="f4-e29"><circle class="er" cx="169" cy="373" r="4.5"/><text class="et" x="169" y="374.3">e<tspan class="s" dy=".8">29</tspan></text></g>
<text class="cap" x="168" y="449">图 4　工程项目组织集成与创新与学习绩效的结构模型</text>
</g>

<!-- ===== Figure 5 nodes ===== -->
<g id="fig5">
<g id="f5-nl"><ellipse class="lv" cx="387" cy="283" rx="18" ry="7"/><text class="zh" x="387" y="285">组织能力</text></g>
<g id="f5-ly"><ellipse class="lv" cx="499" cy="283" rx="23" ry="7"/><text class="zh" x="499" y="285">利益相关者绩效</text></g>
<g id="f5-gx"><ellipse class="lv" cx="385" cy="343" rx="18" ry="7"/><text class="zh" x="385" y="345">组织关系</text></g>
<g id="f5-gtjz"><ellipse class="lv" cx="497" cy="343" rx="18" ry="7"/><text class="zh" x="497" y="345">共同价值</text></g>
<g id="f5-ZZNL1"><rect class="ob" x="330" y="243.5" width="20" height="7"/><text class="bt" x="340" y="248.8">ZZNL1</text></g>
<g id="f5-ZZNL2"><rect class="ob" x="330" y="258.2" width="20" height="7"/><text class="bt" x="340" y="263.5">ZZNL2</text></g>
<g id="f5-ZZNL3"><rect class="ob" x="330" y="272.9" width="20" height="7"/><text class="bt" x="340" y="278.2">ZZNL3</text></g>
<g id="f5-ZZNL4"><rect class="ob" x="330" y="287.6" width="20" height="7"/><text class="bt" x="340" y="292.9">ZZNL4</text></g>
<g id="f5-ZZNL5"><rect class="ob" x="330" y="302.3" width="20" height="7"/><text class="bt" x="340" y="307.6">ZZNL5</text></g>
<g id="f5-ZZNL6"><rect class="ob" x="330" y="317" width="20" height="7"/><text class="bt" x="340" y="322.3">ZZNL6</text></g>
<g id="f5-e1"><circle class="er" cx="315" cy="247" r="4.5"/><text class="et" x="315" y="248.3">e<tspan class="s" dy=".8">1</tspan></text></g>
<g id="f5-e2"><circle class="er" cx="315" cy="261.7" r="4.5"/><text class="et" x="315" y="263">e<tspan class="s" dy=".8">2</tspan></text></g>
<g id="f5-e3"><circle class="er" cx="315" cy="276.4" r="4.5"/><text class="et" x="315" y="277.7">e<tspan class="s" dy=".8">3</tspan></text></g>
<g id="f5-e4"><circle class="er" cx="315" cy="291.1" r="4.5"/><text class="et" x="315" y="292.4">e<tspan class="s" dy=".8">4</tspan></text></g>
<g id="f5-e5"><circle class="er" cx="315" cy="305.8" r="4.5"/><text class="et" x="315" y="307.1">e<tspan class="s" dy=".8">5</tspan></text></g>
<g id="f5-e6"><circle class="er" cx="315" cy="320.5" r="4.5"/><text class="et" x="315" y="321.8">e<tspan class="s" dy=".8">6</tspan></text></g>
<g id="f5-LYXGZJX1"><rect class="ob" x="432" y="249.5" width="32" height="7"/><text class="bt" x="448" y="254.8">LYXGZJX1</text></g>
<g id="f5-LYXGZJX2"><rect class="ob" x="464" y="249.5" width="32" height="7"/><text class="bt" x="480" y="254.8">LYXGZJX2</text></g>
<g id="f5-LYXGZJX3"><rect class="ob" x="496" y="249.5" width="32" height="7"/><text class="bt" x="512" y="254.8">LYXGZJX3</text></g>
<g id="f5-LYXGZJX4"><rect class="ob" x="528" y="249.5" width="32" height="7"/><text class="bt" x="544" y="254.8">LYXGZJX4</text></g>
<g id="f5-e14"><circle class="er" cx="448" cy="233" r="4.5"/><text class="et" x="448" y="234.3">e<tspan class="s" dy=".8">14</tspan></text></g>
<g id="f5-e15"><circle class="er" cx="480" cy="233" r="4.5"/><text class="et" x="480" y="234.3">e<tspan class="s" dy=".8">15</tspan></text></g>
<g id="f5-e16"><circle class="er" cx="512" cy="233" r="4.5"/><text class="et" x="512" y="234.3">e<tspan class="s" dy=".8">16</tspan></text></g>
<g id="f5-e17"><circle class="er" cx="544" cy="233" r="4.5"/><text class="et" x="544" y="234.3">e<tspan class="s" dy=".8">17</tspan></text></g>
<g id="f5-e29"><circle class="er" cx="531" cy="283" r="4.5"/><text class="et" x="531" y="284.3">e<tspan class="s" dy=".8">29</tspan></text></g>
<g id="f5-ZZGX1"><rect class="ob" x="307" y="366.5" width="22.3" height="7"/><text class="bt" x="318.15" y="371.8">ZZGX1</text></g>
<g id="f5-ZZGX2"><rect class="ob" x="329.3" y="366.5" width="22.3" height="7"/><text class="bt" x="340.45" y="371.8">ZZGX2</text></g>
<g id="f5-ZZGX3"><rect class="ob" x="351.6" y="366.5" width="22.3" height="7"/><text class="bt" x="362.75" y="371.8">ZZGX3</text></g>
<g id="f5-ZZGX4"><rect class="ob" x="373.9" y="366.5" width="22.3" height="7"/><text class="bt" x="385.05" y="371.8">ZZGX4</text></g>
<g id="f5-ZZGX5"><rect class="ob" x="396.2" y="366.5" width="22.3" height="7"/><text class="bt" x="407.35" y="371.8">ZZGX5</text></g>
<g id="f5-ZZGX6"><rect class="ob" x="418.5" y="366.5" width="22.3" height="7"/><text class="bt" x="429.65" y="371.8">ZZGX6</text></g>
<g id="f5-ZZGX7"><rect class="ob" x="440.8" y="366.5" width="22.3" height="7"/><text class="bt" x="451.95" y="371.8">ZZGX7</text></g>
<g id="f5-e7"><circle class="er" cx="318.15" cy="390" r="4.5"/><text class="et" x="318.15" y="391.3">e<tspan class="s" dy=".8">7</tspan></text></g>
<g id="f5-e8"><circle class="er" cx="340.45" cy="390" r="4.5"/><text class="et" x="340.45" y="391.3">e<tspan class="s" dy=".8">8</tspan></text></g>
<g id="f5-e9"><circle class="er" cx="362.75" cy="390" r="4.5"/><text class="et" x="362.75" y="391.3">e<tspan class="s" dy=".8">9</tspan></text></g>
<g id="f5-e10"><circle class="er" cx="385.05" cy="390" r="4.5"/><text class="et" x="385.05" y="391.3">e<tspan class="s" dy=".8">10</tspan></text></g>
<g id="f5-e11"><circle class="er" cx="407.35" cy="390" r="4.5"/><text class="et" x="407.35" y="391.3">e<tspan class="s" dy=".8">11</tspan></text></g>
<g id="f5-e12"><circle class="er" cx="429.65" cy="390" r="4.5"/><text class="et" x="429.65" y="391.3">e<tspan class="s" dy=".8">12</tspan></text></g>
<g id="f5-e13"><circle class="er" cx="451.95" cy="390" r="4.5"/><text class="et" x="451.95" y="391.3">e<tspan class="s" dy=".8">13</tspan></text></g>
<g id="f5-GTJZ1"><rect class="ob" x="533" y="309.5" width="17" height="7"/><text class="bt" x="541.5" y="314.8">GTJZ1</text></g>
<g id="f5-GTJZ2"><rect class="ob" x="533" y="324.5" width="17" height="7"/><text class="bt" x="541.5" y="329.8">GTJZ2</text></g>
<g id="f5-GTJZ3"><rect class="ob" x="533" y="339.5" width="17" height="7"/><text class="bt" x="541.5" y="344.8">GTJZ3</text></g>
<g id="f5-GTJZ4"><rect class="ob" x="533" y="355.5" width="17" height="7"/><text class="bt" x="541.5" y="360.8">GTJZ4</text></g>
<g id="f5-GTJZ5"><rect class="ob" x="533" y="371.5" width="17" height="7"/><text class="bt" x="541.5" y="376.8">GTJZ5</text></g>
<g id="f5-e18"><circle class="er" cx="563" cy="313" r="4.5"/><text class="et" x="563" y="314.3">e<tspan class="s" dy=".8">18</tspan></text></g>
<g id="f5-e19"><circle class="er" cx="563" cy="328" r="4.5"/><text class="et" x="563" y="329.3">e<tspan class="s" dy=".8">19</tspan></text></g>
<g id="f5-e20"><circle class="er" cx="563" cy="343" r="4.5"/><text class="et" x="563" y="344.3">e<tspan class="s" dy=".8">20</tspan></text></g>
<g id="f5-e21"><circle class="er" cx="563" cy="359" r="4.5"/><text class="et" x="563" y="360.3">e<tspan class="s" dy=".8">21</tspan></text></g>
<g id="f5-e22"><circle class="er" cx="563" cy="375" r="4.5"/><text class="et" x="563" y="376.3">e<tspan class="s" dy=".8">22</tspan></text></g>
<g id="f5-e23"><circle class="er" cx="497" cy="368" r="4.5"/><text class="et" x="497" y="369.3">e<tspan class="s" dy=".8">23</tspan></text></g>
<text class="cap" x="450" y="437">图 5　工程项目组织集成与利益相关者绩效的结构模型</text>
</g>
</svg>
